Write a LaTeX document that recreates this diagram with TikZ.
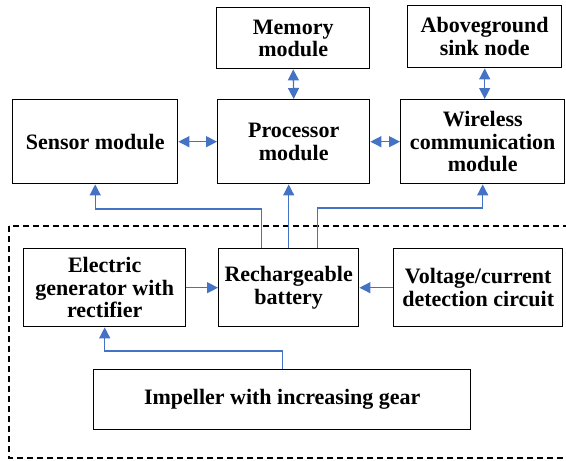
\documentclass[tikz,border=0pt]{standalone}
\usepackage{fontspec}
\setmainfont{Liberation Serif}
\usetikzlibrary{arrows.meta}
\definecolor{linkblue}{RGB}{68,114,196}
\newcommand{\tip}{Triangle[length=11pt,width=11pt]}

\begin{document}
\begin{tikzpicture}[x=1pt, y=-1pt,
    box/.style={draw, rectangle, anchor=north west, line width=1.4pt, inner sep=0pt, align=center,
        font=\fontsize{22}{22.5}\selectfont\bfseries},
    link/.style={draw=linkblue, line width=1.3pt, -{\tip}},
    both/.style={link, {\tip}-{\tip}}]
    \useasboundingbox (0,0) rectangle (566,461);

    % Dashed frame round the power part
    \draw[dashed, line width=1.2pt, dash pattern=on 6pt off 4pt] (9,226) rectangle (572,458);

    % Upper row
    \node[box, minimum width=153, minimum height=61] (mem) at (216,7) {Memory\\module};
    \node[box, minimum width=154, minimum height=62] (sink) at (407,5) {Aboveground\\sink node};

    % Middle row
    \node[box, minimum width=165, minimum height=84] (sensor) at (12,99) {Sensor module};
    \node[box, minimum width=152, minimum height=84] (proc) at (217,99) {Processor\\module};
    \node[box, minimum width=164, minimum height=84] (wireless) at (400,99) {Wireless\\communication\\module};

    % Power supply
    \node[box, minimum width=162, minimum height=78] (gen) at (23,248) {Electric\\generator with\\rectifier};
    \node[box, minimum width=140, minimum height=78] (batt) at (218,248) {Rechargeable\\battery};
    \node[box, minimum width=169, minimum height=78] (volt) at (393,248) {Voltage/current\\detection circuit};
    \node[box, minimum width=377, minimum height=60] (imp) at (93,369) {Impeller with increasing gear};

    % Data links
    \draw[both] (mem.south) -- (proc.north);
    \draw[both] (sink.south) -- (sink.south |- wireless.north);
    \draw[both] (sensor.east) -- (proc.west);
    \draw[both] (proc.east) -- (wireless.west);

    % Power links
    \draw[link] (gen.east) -- (batt.west);
    \draw[link] (volt.west) -- (batt.east);
    \draw[link] (imp.north) -- ++(0,-18) -| (gen.south);
    \draw[link] ([xshift=-27pt]batt.north) -- ++(0,-39) -| (sensor.south);
    \draw[link] (batt.north) -- (batt.north |- proc.south);
    \draw[link] ([xshift=29pt]batt.north) -- ++(0,-40) -| (wireless.south);
\end{tikzpicture}
\end{document}
